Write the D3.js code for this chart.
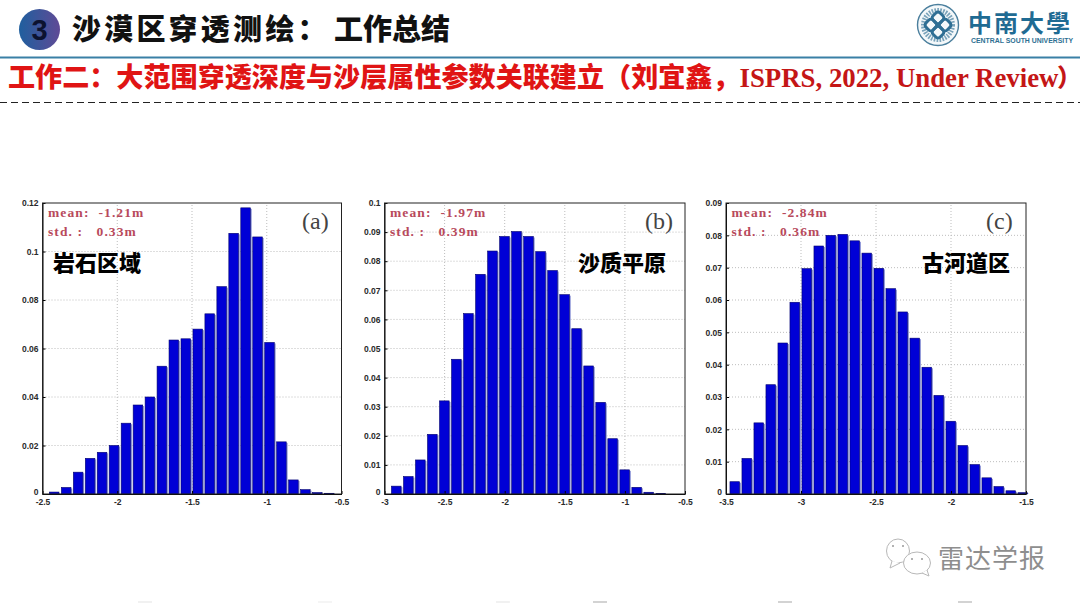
<!DOCTYPE html>
<html>
<head>
<meta charset="utf-8">
<script src="https://cdnjs.cloudflare.com/ajax/libs/d3/7.8.5/d3.min.js"></script>
<style>
  html, body { margin: 0; padding: 0; background: #fff; }
  svg { display: block; }
  text { font-family: "Noto Sans CJK SC", sans-serif; }
  .tick text { font-family: "Liberation Sans", Arial, sans-serif; font-size: 8.5px; font-weight: 700; fill: #2a2a2a; }
  .stat { font-family: "Liberation Serif", serif; font-size: 13.5px; font-weight: 700; fill: #b84a5c; letter-spacing: 1.1px; white-space: pre; }
</style>
</head>
<body>
<div id="chart"></div>
<script>
// bin centres and heights
var binsA = [-2.42, -2.34, -2.26, -2.18, -2.10, -2.02, -1.94, -1.86, -1.78, -1.70, -1.62, -1.54,
             -1.46, -1.38, -1.30, -1.22, -1.14, -1.06, -0.98, -0.90, -0.82, -0.74, -0.66, -0.58];
var valuesA = [0.0008, 0.0027, 0.009, 0.0147, 0.0172, 0.02, 0.0292, 0.0367, 0.04, 0.0527, 0.0635, 0.064,
               0.068, 0.0743, 0.0855, 0.1075, 0.118, 0.106, 0.0625, 0.0215, 0.0058, 0.0018, 0.0006, 0.0003];

var binsB = [-2.9, -2.8, -2.7, -2.6, -2.5, -2.4, -2.3, -2.2, -2.1, -2.0, -1.9, -1.8,
             -1.7, -1.6, -1.5, -1.4, -1.3, -1.2, -1.1, -1.0, -0.9, -0.8, -0.7];
var valuesB = [0.0027, 0.006, 0.0117, 0.0205, 0.032, 0.0463, 0.062, 0.0755, 0.0835, 0.0885, 0.0902, 0.0885,
               0.0833, 0.0768, 0.0685, 0.0568, 0.044, 0.0315, 0.019, 0.0083, 0.0023, 0.0006, 0.0002];

var binsC = [-3.44, -3.36, -3.28, -3.20, -3.12, -3.04, -2.96, -2.88, -2.80, -2.72, -2.64, -2.56, -2.48,
             -2.40, -2.32, -2.24, -2.16, -2.08, -2.00, -1.92, -1.84, -1.76, -1.68, -1.60, -1.52];
var valuesC = [0.0038, 0.011, 0.022, 0.0338, 0.0467, 0.0593, 0.0697, 0.0767, 0.08, 0.0803, 0.0783, 0.0745, 0.0698,
               0.0635, 0.0563, 0.0482, 0.0392, 0.0305, 0.0225, 0.015, 0.0091, 0.005, 0.0023, 0.001, 0.0004];

var xTicksA = [-2.5, -2, -1.5, -1, -0.5];
var yTicksA = [0, 0.02, 0.04, 0.06, 0.08, 0.1, 0.12];
var xTicksB = [-3, -2.5, -2, -1.5, -1, -0.5];
var yTicksB = [0, 0.01, 0.02, 0.03, 0.04, 0.05, 0.06, 0.07, 0.08, 0.09, 0.1];
var xTicksC = [-3.5, -3, -2.5, -2, -1.5];
var yTicksC = [0, 0.01, 0.02, 0.03, 0.04, 0.05, 0.06, 0.07, 0.08, 0.09];

var width = 1080;
var height = 607;

var svg = d3.select("#chart").append("svg")
    .attr("width", width)
    .attr("height", height);

var defs = svg.append("defs");
var grad = defs.append("linearGradient").attr("id", "badge");
grad.append("stop").attr("offset", "0%").attr("stop-color", "#1f5f9e");
grad.append("stop").attr("offset", "100%").attr("stop-color", "#5f4a96");

//header
svg.append("circle").attr("cx", 39.5).attr("cy", 29.5).attr("r", 20.5).style("fill", "url(#badge)");
svg.append("text").attr("x", 39.5).attr("y", 40).attr("text-anchor", "middle")
    .style("font-size", "29px").style("font-weight", 700).style("fill", "#0c1230")
    .style("font-family", "'Liberation Sans', sans-serif").text("3");
svg.append("text").attr("x", 72).attr("y", 40)
    .style("font-size", "29px").style("font-weight", 900).style("letter-spacing", "3.2px").style("fill", "#111")
    .text("沙漠区穿透测绘：");
svg.append("text").attr("x", 334).attr("y", 40)
    .style("font-size", "29px").style("font-weight", 900).style("fill", "#111")
    .text("工作总结");

svg.append("line").attr("x1", 0).attr("x2", width).attr("y1", 57.5).attr("y2", 57.5)
    .style("stroke", "#3a80a6").style("stroke-width", 2);
svg.append("line").attr("x1", 0).attr("x2", width).attr("y1", 102.5).attr("y2", 102.5)
    .style("stroke", "#222").style("stroke-width", 1).style("stroke-dasharray", "7 4");

//subtitle, chinese and latin parts have different faces
var sub = svg.append("text").attr("x", 8).attr("y", 87).style("fill", "#e01414");
sub.append("tspan").style("font-size", "27.1px").style("font-weight", 900)
    .text("工作二：大范围穿透深度与沙层属性参数关联建立（刘宜鑫，");
sub.append("tspan").style("font-family", "'Liberation Serif', serif").style("font-size", "26.8px")
    .style("font-weight", 700).style("fill", "#c41616").text("ISPRS, 2022, Under Review");
sub.append("tspan").attr("dx", -1.5).style("font-size", "24.5px").style("font-weight", 900).style("fill", "#c41616").text("）");

//university logo
var logo = svg.append("g").attr("transform", "translate(938,25)");
logo.append("circle").attr("r", 20.5).style("fill", "#f4f8fa").style("stroke", "#4b7f9d").style("stroke-width", 1.4);
logo.append("circle").attr("r", 14.5).style("fill", "none").style("stroke", "#7aa3ba").style("stroke-width", 5).style("stroke-dasharray", "1.6 1.2");
[[-5, -5], [5, -5], [-5, 5], [5, 5]].forEach(function(p) {
    logo.append("rect").attr("x", p[0] - 5).attr("y", p[1] - 5).attr("width", 10).attr("height", 10).attr("rx", 3)
        .attr("transform", "rotate(45)")
        .style("fill", "none").style("stroke", "#2f6f94").style("stroke-width", 3);
});
svg.append("text").attr("x", 968).attr("y", 32)
    .style("font-family", "'Noto Sans CJK TC', sans-serif")
    .style("font-size", "24px").style("font-weight", 700).style("letter-spacing", "2px").style("fill", "#1f6b93")
    .text("中南大學");
svg.append("text").attr("x", 971).attr("y", 43)
    .style("font-family", "'Liberation Sans', sans-serif").style("font-size", "6.9px").style("font-weight", 700).style("fill", "#2e6f92")
    .text("CENTRAL SOUTH UNIVERSITY");

//one histogram panel
function panel(o) {
    var g = svg.append("g");
    var x = d3.scaleLinear().domain(o.xDomain).range([o.left, o.right]);
    var y = d3.scaleLinear().domain(o.yDomain).range([494, 203]);
    var halfBin = (o.bins[1] - o.bins[0]) * 0.42;

    //dotted grid
    g.selectAll(".gx").data(o.xTicks.slice(1, -1)).enter().append("line")
        .attr("x1", function(d) { return x(d); }).attr("x2", function(d) { return x(d); })
        .attr("y1", y.range()[0]).attr("y2", y.range()[1])
        .style("stroke", "#bdbdbd").style("stroke-width", 1).style("stroke-dasharray", "1 2");
    g.selectAll(".gy").data(o.yTicks.slice(1, -1)).enter().append("line")
        .attr("x1", o.left).attr("x2", o.right)
        .attr("y1", function(d) { return y(d); }).attr("y2", function(d) { return y(d); })
        .style("stroke", "#bdbdbd").style("stroke-width", 1).style("stroke-dasharray", "1 2");

    var rows = o.bins.map(function(b, i) { return { bin: b, value: o.values[i] }; });

    //pale edge on the right side of each bar
    g.selectAll(".edge").data(rows).enter().append("rect")
        .attr("x", function(d) { return x(d.bin + halfBin) - 0.5; })
        .attr("y", function(d) { return y(d.value) + 1; })
        .attr("width", 1.4)
        .attr("height", function(d) { return Math.max(0, y(0) - y(d.value) - 1); })
        .style("fill", "#8f97d8");

    g.selectAll(".bar").data(rows).enter().append("rect")
        .attr("x", function(d) { return x(d.bin - halfBin); })
        .attr("y", function(d) { return y(d.value); })
        .attr("width", function(d) { return x(d.bin + halfBin) - x(d.bin - halfBin) - 0.5; })
        .attr("height", function(d) { return y(0) - y(d.value); })
        .style("fill", "#0000d6")
        .style("stroke", "#00006e").style("stroke-width", 0.6);

    //axes, ticks point into the plot
    var xAxis = d3.axisBottom(x).tickValues(o.xTicks).tickFormat(String).tickSizeInner(-3).tickSizeOuter(0).tickPadding(5);
    var yAxis = d3.axisLeft(y).tickValues(o.yTicks).tickFormat(String).tickSizeInner(-3).tickSizeOuter(0).tickPadding(4);
    g.append("g").attr("transform", "translate(0,494)").call(xAxis);
    var yG = g.append("g").attr("transform", "translate(" + o.left + ",0)").call(yAxis);
    //the zero label sits a bit above its tick, clear of the x labels
    yG.selectAll(".tick text").filter(function(d) { return d === 0; }).attr("dy", "0.02em");
    g.append("rect").attr("x", o.left).attr("y", 203).attr("width", o.right - o.left).attr("height", 291)
        .style("fill", "none").style("stroke", "#222").style("stroke-width", 1);

    g.append("text").attr("class", "stat").attr("x", o.left + 5.5).attr("y", 217).text("mean:  " + o.mean);
    g.append("text").attr("class", "stat").attr("x", o.left + 5.5).attr("y", 236).text("std. :   " + o.std);

    g.append("text").attr("x", o.tagX).attr("y", 229)
        .style("font-family", "'Liberation Serif', serif").style("font-size", "24px").style("fill", "#444")
        .text(o.tag);
    g.append("text").attr("x", o.nameX).attr("y", 271)
        .style("font-size", "22px").style("font-weight", 900).style("fill", "#000")
        .text(o.name);
}

panel({ bins: binsA, values: valuesA, xTicks: xTicksA, yTicks: yTicksA, xDomain: [-2.5, -0.5], yDomain: [0, 0.12],
        left: 42.5, right: 341.5, mean: "-1.21m", std: "0.33m", tag: "(a)", tagX: 302, name: "岩石区域", nameX: 53 });
panel({ bins: binsB, values: valuesB, xTicks: xTicksB, yTicks: yTicksB, xDomain: [-3, -0.5], yDomain: [0, 0.1],
        left: 384.5, right: 685, mean: "-1.97m", std: "0.39m", tag: "(b)", tagX: 645, name: "沙质平原", nameX: 578 });
panel({ bins: binsC, values: valuesC, xTicks: xTicksC, yTicks: yTicksC, xDomain: [-3.5, -1.5], yDomain: [0, 0.09],
        left: 726, right: 1026, mean: "-2.84m", std: "0.36m", tag: "(c)", tagX: 986, name: "古河道区", nameX: 922 });

//watermark
var wm = svg.append("g").style("fill", "#fff").style("stroke", "#b8b8b8").style("stroke-width", 1);
wm.append("ellipse").attr("cx", 898).attr("cy", 551).attr("rx", 11.5).attr("ry", 12);
wm.append("path").attr("d", "M892,561 L890,568 L900,563");
wm.append("ellipse").attr("cx", 917).attr("cy", 563).attr("rx", 13.5).attr("ry", 11);
wm.append("path").attr("d", "M922,573 L929,576 L927,570");
[[893, 546], [903, 546], [912, 559], [922, 559]].forEach(function(p) {
    svg.append("circle").attr("cx", p[0]).attr("cy", p[1]).attr("r", 1).style("fill", "#999");
});
svg.append("text").attr("x", 938).attr("y", 568)
    .style("font-size", "26px").style("font-weight", 400).style("fill", "#8e8e8e").style("letter-spacing", "1px")
    .text("雷达学报");

//faint leftovers along the bottom edge of the slide
[[138, "#e8e8e8"], [318, "#eeeeee"], [496, "#e8e8e8"], [593, "#b5b5b5"], [778, "#b5b5b5"], [958, "#b5b5b5"]].forEach(function(m) {
    svg.append("line").attr("x1", m[0]).attr("x2", m[0] + 14).attr("y1", 602).attr("y2", 602)
        .style("stroke", m[1]).style("stroke-width", 1.2);
});
</script>
</body>
</html>
